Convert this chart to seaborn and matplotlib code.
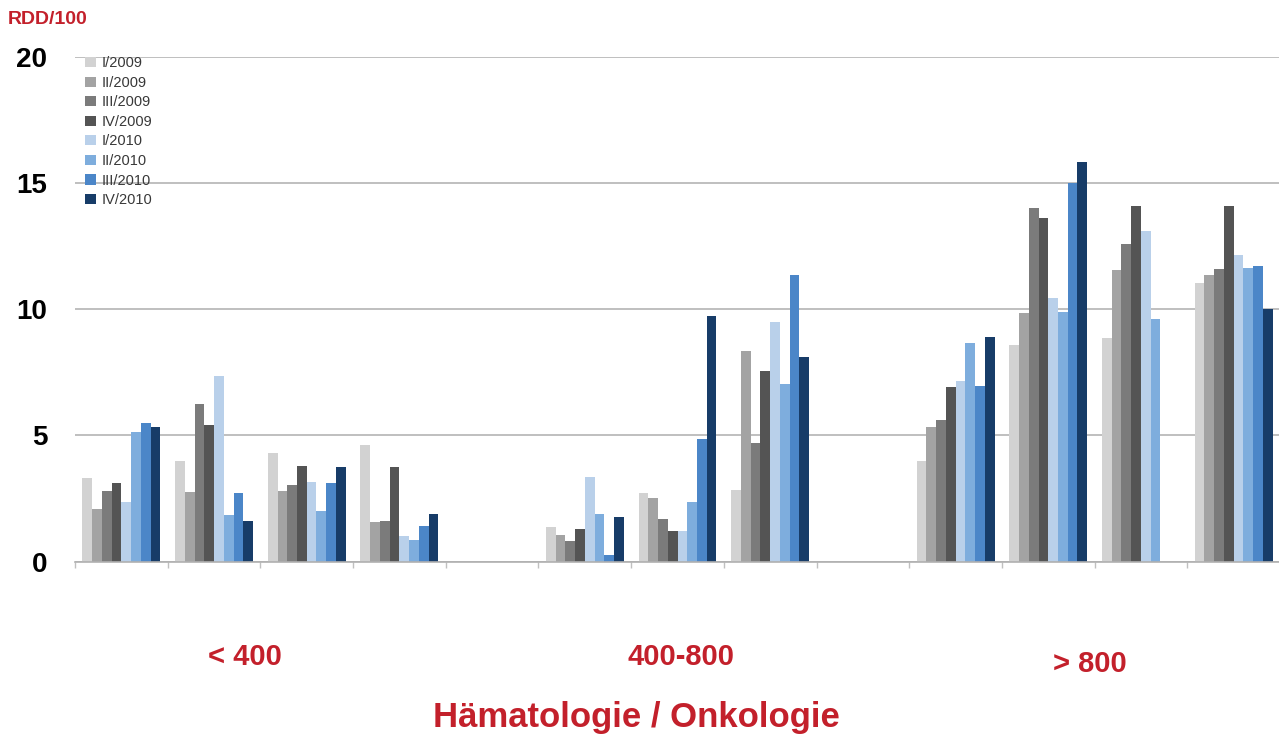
import numpy as np
import pandas as pd
import matplotlib
matplotlib.use("Agg")
import matplotlib.pyplot as plt
import seaborn as sns

nan = np.nan

# Krankenhaus-Slots (Lücken trennen die Bettengruppen)
slots = ["<400-1", "<400-2", "<400-3", "<400-4", "gap1",
         "400-800-1", "400-800-2", "400-800-3", "gap2",
         ">800-1", ">800-2", ">800-3", ">800-4"]
quarters = ["I/2009", "II/2009", "III/2009", "IV/2009",
            "I/2010", "II/2010", "III/2010", "IV/2010"]

q1_2009 = [3.3, 4.0, 4.3, 4.6, nan, 1.35, 2.7, 2.85, nan, 4.0, 8.6, 8.85, 11.05]
q2_2009 = [2.1, 2.75, 2.8, 1.55, nan, 1.05, 2.5, 8.35, nan, 5.35, 9.85, 11.55, 11.35]
q3_2009 = [2.8, 6.25, 3.05, 1.6, nan, 0.8, 1.7, 4.7, nan, 5.6, 14.0, 12.6, 11.6]
q4_2009 = [3.1, 5.4, 3.8, 3.75, nan, 1.3, 1.2, 7.55, nan, 6.9, 13.6, 14.1, 14.1]
q1_2010 = [2.35, 7.35, 3.15, 1.0, nan, 3.35, 1.2, 9.5, nan, 7.15, 10.45, 13.1, 12.15]
q2_2010 = [5.15, 1.85, 2.0, 0.85, nan, 1.9, 2.35, 7.05, nan, 8.65, 9.9, 9.6, 11.65]
q3_2010 = [5.5, 2.7, 3.1, 1.4, nan, 0.25, 4.85, 11.35, nan, 6.95, 15.0, nan, 11.7]
q4_2010 = [5.35, 1.6, 3.75, 1.9, nan, 1.75, 9.75, 8.1, nan, 8.9, 15.85, nan, 10.0]

group_labels = ["< 400", "400-800", "> 800"]

colors = ["#d2d2d2", "#a3a3a3", "#7b7b7b", "#545454",
          "#b9d0ea", "#7eaddd", "#4b86c8", "#173c68"]
red = "#c3202b"

series = [q1_2009, q2_2009, q3_2009, q4_2009, q1_2010, q2_2010, q3_2010, q4_2010]
rows = []
for q, vals in zip(quarters, series):
    for s, v in zip(slots, vals):
        rows.append({"slot": s, "quarter": q, "value": v})
df = pd.DataFrame(rows).dropna()

sns.set_style("white")
plt.rcParams["font.family"] = ["Liberation Sans", "DejaVu Sans"]

fig = plt.figure(figsize=(12.79, 7.36), dpi=100)
ax = fig.add_axes([75 / 1279, 1 - 561.5 / 736, 1205 / 1279, (561.5 - 57) / 736])

sns.barplot(data=df, x="slot", y="value", hue="quarter", order=slots,
            hue_order=quarters, palette=colors, width=0.84, gap=0,
            errorbar=None, saturation=1, linewidth=0, ax=ax)

ax.set_ylim(0, 20)
ax.set_xlim(-0.5, 12.5)
ax.set_yticks([0, 5, 10, 15, 20])
ax.set_yticklabels(["0", "5", "10", "15", "20"], fontsize=20,
                   fontweight="bold", color="black")
ax.tick_params(axis="y", length=0, pad=20)
ax.set_xticks(np.arange(-0.5, 13, 1))
ax.set_xticklabels([])
ax.tick_params(axis="x", bottom=True, length=4, width=1, color="#c0c0c0",
               direction="out")
ax.set_xlabel("")
ax.set_ylabel("")
ax.grid(axis="y", color="#b4b4b4", linewidth=1.2)
ax.set_axisbelow(True)
for side in ["left", "right", "top"]:
    ax.spines[side].set_visible(False)
ax.spines["bottom"].set_color("#b0b0b0")
ax.spines["bottom"].set_linewidth(1.2)

handles, labels = ax.get_legend_handles_labels()
ax.legend(handles, labels, loc="upper left", bbox_to_anchor=(78 / 1279, 1 - 49 / 736),
          bbox_transform=fig.transFigure, frameon=False, fontsize=10.5,
          handlelength=0.7, handleheight=0.7, handletextpad=0.4,
          labelspacing=0.38, borderpad=0, labelcolor="#383838")

fig.text(8 / 1279, 1 - 20 / 736, "RDD/100", color=red, fontsize=14,
         fontweight="bold", ha="left", va="center")
for lab, (px, py) in zip(group_labels, [(245, 657), (681, 657), (1090, 664)]):
    fig.text(px / 1279, 1 - py / 736, lab, color=red, fontsize=21,
             fontweight="bold", ha="center", va="center")
fig.text(636 / 1279, 1 - 718 / 736, "Hämatologie / Onkologie", color=red,
         fontsize=25, fontweight="bold", ha="center", va="center")

fig.savefig("out.png", dpi=100)
